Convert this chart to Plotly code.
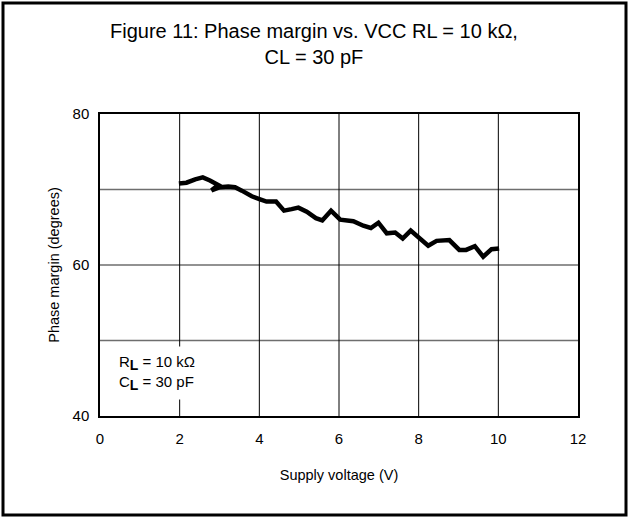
import plotly.graph_objects as go

supply_voltage = [1.98, 2.17, 2.39, 2.58, 2.76, 2.97, 2.80, 3.01, 3.22, 3.39, 3.56, 3.81, 4.02,
                  4.18, 4.42, 4.62, 4.81, 4.98, 5.19, 5.42, 5.58, 5.80, 6.03, 6.36, 6.61, 6.80,
                  6.99, 7.20, 7.41, 7.60, 7.80, 8.02, 8.24, 8.45, 8.77, 9.02, 9.19, 9.41, 9.62,
                  9.83, 10.02]
phase_margin = [70.8, 70.9, 71.35, 71.6, 71.2, 70.6, 69.9, 70.3, 70.4, 70.3, 69.85, 69.1, 68.7,
                68.4, 68.4, 67.2, 67.4, 67.6, 67.05, 66.2, 65.9, 67.2, 66.0, 65.8, 65.2, 64.9,
                65.6, 64.2, 64.3, 63.5, 64.55, 63.5, 62.55, 63.2, 63.3, 62.0, 62.0, 62.5, 61.1,
                62.1, 62.2]

x_ticks = [0, 2, 4, 6, 8, 10, 12]
y_ticks = [40, 60, 80]
y_grid = [50, 60, 70]
x_grid = [2, 4, 6, 8, 10]

title_text = "Figure 11: Phase margin vs. VCC RL = 10 kΩ,<br>CL = 30 pF"
x_title = "Supply voltage (V)"
y_title = "Phase margin (degrees)"
sub_l = "<sub><b><span style='font-size:14px'>L</span></b></sub>"
note_text = "R" + sub_l + " = 10 kΩ<br>C" + sub_l + " = 30 pF"

FONT = "Liberation Sans, Arial, sans-serif"

fig = go.Figure()
fig.add_trace(go.Scatter(x=supply_voltage, y=phase_margin, mode="lines",
                         line=dict(color="black", width=4.5), showlegend=False,
                         hoverinfo="skip"))

# horizontal grid lines (gray)
for yv in y_grid:
    fig.add_shape(type="line", xref="x", yref="y", x0=0, x1=12, y0=yv, y1=yv,
                  line=dict(color="#6e6e6e", width=1.5), layer="below")
# vertical grid lines (black)
for xv in x_grid:
    fig.add_shape(type="line", xref="x", yref="y", x0=xv, x1=xv, y0=40, y1=80,
                  line=dict(color="black", width=1), layer="below")

# outer frame
L, R, T, B = 100, 51, 114, 102
W, H = 629, 518
pw, ph = W - L - R, H - T - B
fig.add_shape(type="rect", xref="paper", yref="paper",
              x0=(3 - L) / pw, x1=(626 - L) / pw,
              y0=(H - B - 515) / ph, y1=(H - B - 3) / ph,
              line=dict(color="black", width=3), fillcolor="rgba(0,0,0,0)")

# title
fig.add_annotation(text=title_text, xref="paper", yref="paper",
                   x=(314 - L) / pw, y=(H - B - 44) / ph,
                   xanchor="center", yanchor="middle", showarrow=False, align="center",
                   font=dict(family=FONT, size=20, color="black"))

fig.add_annotation(text=note_text, xref="x", yref="y", x=0.3, y=45.75,
                   xanchor="left", yanchor="middle", showarrow=False, align="left",
                   font=dict(family=FONT, size=15, color="black"),
                   bgcolor="white", borderpad=6)

fig.update_layout(
    width=W, height=H,
    margin=dict(l=L, r=R, t=T, b=B),
    paper_bgcolor="white", plot_bgcolor="white",
    font=dict(family=FONT, size=14, color="black"),
    xaxis=dict(range=[0, 12], tickvals=x_ticks, ticktext=[str(t) for t in x_ticks],
               showgrid=False, zeroline=False, showline=True, mirror=True,
               linecolor="black", linewidth=1.5, ticks="outside", ticklen=8,
               tickcolor="rgba(0,0,0,0)",
               tickfont=dict(size=15), title=dict(text=x_title, font=dict(size=14.5), standoff=24)),
    yaxis=dict(range=[40, 80], tickvals=y_ticks, ticktext=[str(t) for t in y_ticks],
               showgrid=False, zeroline=False, showline=True, mirror=True,
               linecolor="black", linewidth=1.5, ticks="outside", ticklen=6,
               tickcolor="rgba(0,0,0,0)",
               tickfont=dict(size=15), title=dict(text=y_title, font=dict(size=14.5), standoff=9)),
)

fig.write_html("out.html", config={"displayModeBar": False},
               post_script="document.body.style.margin='0';")
